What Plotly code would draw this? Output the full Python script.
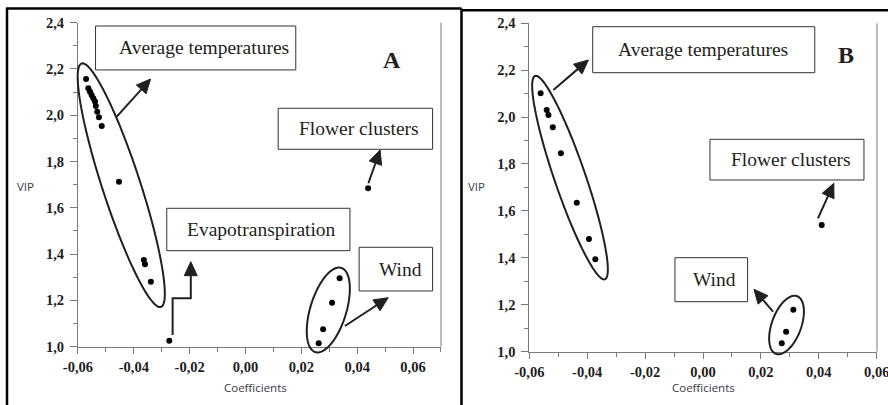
import math
import plotly.graph_objects as go

# ---- data: PLS coefficients vs VIP scores ----
# Panel A
a_coef = [-0.0571, -0.0563, -0.0557, -0.0551, -0.0545, -0.0539, -0.0536, -0.0531,
          -0.0525, -0.0515, -0.0453, -0.0364, -0.0360, -0.0339, -0.0273,
          0.0439, 0.0337, 0.0310, 0.0278, 0.0262]
a_vip = [2.157, 2.117, 2.102, 2.088, 2.073, 2.059, 2.040, 2.015,
         1.991, 1.954, 1.713, 1.375, 1.356, 1.281, 1.026,
         1.685, 1.296, 1.190, 1.075, 1.015]
# Panel B
b_coef = [-0.0561, -0.0540, -0.0534, -0.0519, -0.0491, -0.0436, -0.0394, -0.0372,
          0.0410, 0.0312, 0.0287, 0.0272]
b_vip = [2.102, 2.030, 2.009, 1.957, 1.846, 1.635, 1.480, 1.394,
         1.540, 1.178, 1.085, 1.036]

y_tickvals = [1.0, 1.2, 1.4, 1.6, 1.8, 2.0, 2.2, 2.4]
y_ticktext = ["1,0", "1,2", "1,4", "1,6", "1,8", "2,0", "2,2", "2,4"]
x_tickvals = [-0.06, -0.04, -0.02, 0.0, 0.02, 0.04, 0.06]
x_ticktext = ["-0,06", "-0,04", "-0,02", "0,00", "0,02", "0,04", "0,06"]

W, H = 888, 405
INK = "#231f20"
AXIS = "#7a7a7a"
SERIF = "Liberation Serif, Times New Roman, serif"
SANS = "Open Sans"

PANELS = {
    "A": dict(xdom=(0.0878, 0.4966), ydom=(0.1440, 0.9440), xr=(-0.06, 0.07), yr=(1.0, 2.4)),
    "B": dict(xdom=(0.5961, 0.9876), ydom=(0.1319, 0.9425), xr=(-0.06, 0.0601), yr=(1.0, 2.4)),
}


def to_px(panel, x, y):
    """Data coordinates of a panel -> page pixels (origin top-left)."""
    p = PANELS[panel]
    fx = (x - p["xr"][0]) / (p["xr"][1] - p["xr"][0])
    fy = (y - p["yr"][0]) / (p["yr"][1] - p["yr"][0])
    px = (p["xdom"][0] + fx * (p["xdom"][1] - p["xdom"][0])) * W
    py = (1 - (p["ydom"][0] + fy * (p["ydom"][1] - p["ydom"][0]))) * H
    return px, py


def paper(px, py):
    return px / W, 1 - py / H


def path_from_px(points, close=False):
    parts = []
    for i, (px, py) in enumerate(points):
        u, v = paper(px, py)
        parts.append(("M" if i == 0 else "L") + f"{u:.5f},{v:.5f}")
    return " ".join(parts) + (" Z" if close else "")


shapes = []
annotations = []


def ellipse(panel, end1, end2, half_minor_px):
    x1, y1 = to_px(panel, *end1)
    x2, y2 = to_px(panel, *end2)
    cx, cy = (x1 + x2) / 2, (y1 + y2) / 2
    ux, uy = (x2 - x1) / 2, (y2 - y1) / 2
    a = math.hypot(ux, uy)
    vx, vy = -uy / a * half_minor_px, ux / a * half_minor_px
    pts = []
    for k in range(121):
        t = 2 * math.pi * k / 120
        pts.append((cx + ux * math.cos(t) + vx * math.sin(t),
                    cy + uy * math.cos(t) + vy * math.sin(t)))
    shapes.append(dict(type="path", xref="paper", yref="paper",
                       path=path_from_px(pts, close=True),
                       line=dict(color=INK, width=2)))


def arrow(panel, pts, head_len=14, head_half=6.5):
    """Polyline through pts (data coords) ending in a filled triangular head."""
    pix = [to_px(panel, *p) for p in pts]
    (xa, ya), (xb, yb) = pix[-2], pix[-1]
    d = math.hypot(xb - xa, yb - ya)
    dx, dy = (xb - xa) / d, (yb - ya) / d
    base = (xb - dx * head_len, yb - dy * head_len)
    line_pts = pix[:-1] + [(base[0] + dx * 1.5, base[1] + dy * 1.5)]
    shapes.append(dict(type="path", xref="paper", yref="paper",
                       path=path_from_px(line_pts),
                       line=dict(color=INK, width=2)))
    head = [(xb, yb),
            (base[0] - dy * head_half, base[1] + dx * head_half),
            (base[0] + dy * head_half, base[1] - dx * head_half)]
    shapes.append(dict(type="path", xref="paper", yref="paper",
                       path=path_from_px(head, close=True),
                       fillcolor=INK, line=dict(color=INK, width=1)))


def label_box(panel, x0, x1, y0, y1, text, tx):
    px0, py0 = to_px(panel, x0, y1)
    px1, py1 = to_px(panel, x1, y0)
    u0, v1 = paper(px0, py0)
    u1, v0 = paper(px1, py1)
    shapes.append(dict(type="rect", xref="paper", yref="paper",
                       x0=u0, x1=u1, y0=v0, y1=v1,
                       fillcolor="white", line=dict(color="#333333", width=1)))
    tpx, _ = to_px(panel, tx, y0)
    annotations.append(dict(xref="paper", yref="paper", x=tpx / W, y=(v0 + v1) / 2,
                            text=text, showarrow=False, xanchor="center", yanchor="middle",
                            font=dict(family=SERIF, size=19.5, color=INK)))


# ---- panel A annotations ----
ellipse("A", (-0.0587, 2.2237), (-0.0303, 1.1716), 19)
ellipse("A", (0.0343, 1.3405), (0.0250, 0.9767), 18)
arrow("A", [(-0.0461, 1.9938), (-0.0340, 2.1567)])
arrow("A", [(0.0440, 1.7061), (0.0482, 1.8500)])
arrow("A", [(-0.0261, 1.0506), (-0.0261, 1.2091), (-0.0196, 1.2091), (-0.0196, 1.3673)])
arrow("A", [(0.0356, 1.0894), (0.0511, 1.2117)])
label_box("A", -0.0537, 0.0180, 2.1957, 2.3857, "Average temperatures", -0.0150)
label_box("A", 0.0117, 0.0670, 1.8530, 2.0301, "Flower clusters", 0.0406)
label_box("A", -0.0282, 0.0374, 1.4148, 1.5980, "Evapotranspiration", 0.0059)
label_box("A", 0.0407, 0.0670, 1.2407, 1.4295, "Wind", 0.0555)

# ---- panel B annotations ----
ellipse("B", (-0.0580, 2.1753), (-0.0339, 1.3083), 15.5)
ellipse("B", (0.0325, 1.2362), (0.0252, 0.9906), 14.7)
arrow("B", [(-0.0517, 2.1156), (-0.0396, 2.2435)])
arrow("B", [(0.0397, 1.5684), (0.0452, 1.7177)])
arrow("B", [(0.0242, 1.1701), (0.0176, 1.2657)])
label_box("B", -0.0381, 0.0386, 2.1893, 2.3855, "Average temperatures", 0.0)
label_box("B", 0.0024, 0.0556, 1.7318, 1.9053, "Flower clusters", 0.0303)
label_box("B", -0.0097, 0.0154, 1.2128, 1.4004, "Wind", 0.0041)

# panel letters
for panel, x, y, letter in [("A", 0.0525, 2.2388, "A"), ("B", 0.0493, 2.2648, "B")]:
    px, py = to_px(panel, x, y)
    annotations.append(dict(xref="paper", yref="paper", x=px / W, y=1 - py / H,
                            text=f"<b>{letter}</b>", showarrow=False,
                            xanchor="center", yanchor="middle",
                            font=dict(family=SERIF, size=24, color=INK)))

# axis titles
for panel in ["A", "B"]:
    p = PANELS[panel]
    annotations.append(dict(xref="paper", yref="paper",
                            x=(p["xdom"][0] + p["xdom"][1]) / 2 - (0.004 if panel == "A" else 0),
                            y=1 - 387 / H, text="Coefficients", showarrow=False,
                            xanchor="center", yanchor="middle",
                            font=dict(family=SANS, size=11.5, color="#3a3a44")))
    annotations.append(dict(xref="paper", yref="paper",
                            x=(p["xdom"][0] * W - 63) / W, y=1 - 186 / H,
                            text="VIP", showarrow=False, xanchor="left", yanchor="middle",
                            font=dict(family=SANS, size=11.5, color="#3a3a44")))
    # right-hand frame line of the plotting area
    shapes.append(dict(type="line", xref="paper", yref="paper",
                       x0=p["xdom"][1], x1=p["xdom"][1], y0=p["ydom"][0], y1=p["ydom"][1],
                       line=dict(color=AXIS, width=1)))

# outer panel frames
frame = dict(color="black", width=2.5)
for x0, y0, x1, y1 in [(6, 8.5, 461.5, 8.5), (7, 8.5, 7, 405), (461.5, 8.5, 461.5, 405),
                       (461.5, 10.3, 888, 10.3)]:
    u0, v0 = paper(x0, y0)
    u1, v1 = paper(x1, y1)
    shapes.append(dict(type="line", xref="paper", yref="paper",
                       x0=u0, y0=v0, x1=u1, y1=v1, line=frame))

fig = go.Figure()
marker = dict(color="black", size=6)
fig.add_trace(go.Scatter(x=a_coef, y=a_vip, mode="markers", marker=marker,
                         xaxis="x", yaxis="y", cliponaxis=False, showlegend=False))
fig.add_trace(go.Scatter(x=b_coef, y=b_vip, mode="markers", marker=marker,
                         xaxis="x2", yaxis="y2", cliponaxis=False, showlegend=False))

tickfont = dict(family=SERIF, size=14.5, color="#1e1e1e", weight="bold")


def xaxis(panel, anchor):
    p = PANELS[panel]
    return dict(domain=list(p["xdom"]), range=list(p["xr"]), anchor=anchor,
                automargin=False, ticklabeloverflow="allow",
                tickmode="array", tickvals=x_tickvals, ticktext=x_ticktext,
                ticks="outside", ticklen=6, tickwidth=1, tickcolor=AXIS,
                minor=dict(dtick=0.01, tick0=-0.06, ticks="outside", ticklen=4,
                           tickwidth=1, tickcolor=AXIS),
                showline=True, linecolor=AXIS, linewidth=1, showgrid=False,
                zeroline=False, tickfont=tickfont, ticklabelstandoff=1)


def yaxis(panel, anchor):
    p = PANELS[panel]
    return dict(domain=list(p["ydom"]), range=list(p["yr"]), anchor=anchor,
                automargin=False, ticklabeloverflow="allow",
                tickmode="array", tickvals=y_tickvals, ticktext=y_ticktext,
                ticks="outside", ticklen=7, tickwidth=1, tickcolor=AXIS,
                minor=dict(dtick=0.1, tick0=1.0, ticks="outside", ticklen=4,
                           tickwidth=1, tickcolor=AXIS),
                showline=True, linecolor=AXIS, linewidth=1, showgrid=False,
                zeroline=False, tickfont=tickfont, ticklabelstandoff=3)


fig.update_layout(
    width=W, height=H,
    margin=dict(l=0, r=0, t=0, b=0, autoexpand=False),
    paper_bgcolor="white", plot_bgcolor="white",
    xaxis=xaxis("A", "y"), yaxis=yaxis("A", "x"),
    xaxis2=xaxis("B", "y2"), yaxis2=yaxis("B", "x2"),
    shapes=shapes, annotations=annotations,
    showlegend=False,
)

fig.write_html("out.html")
